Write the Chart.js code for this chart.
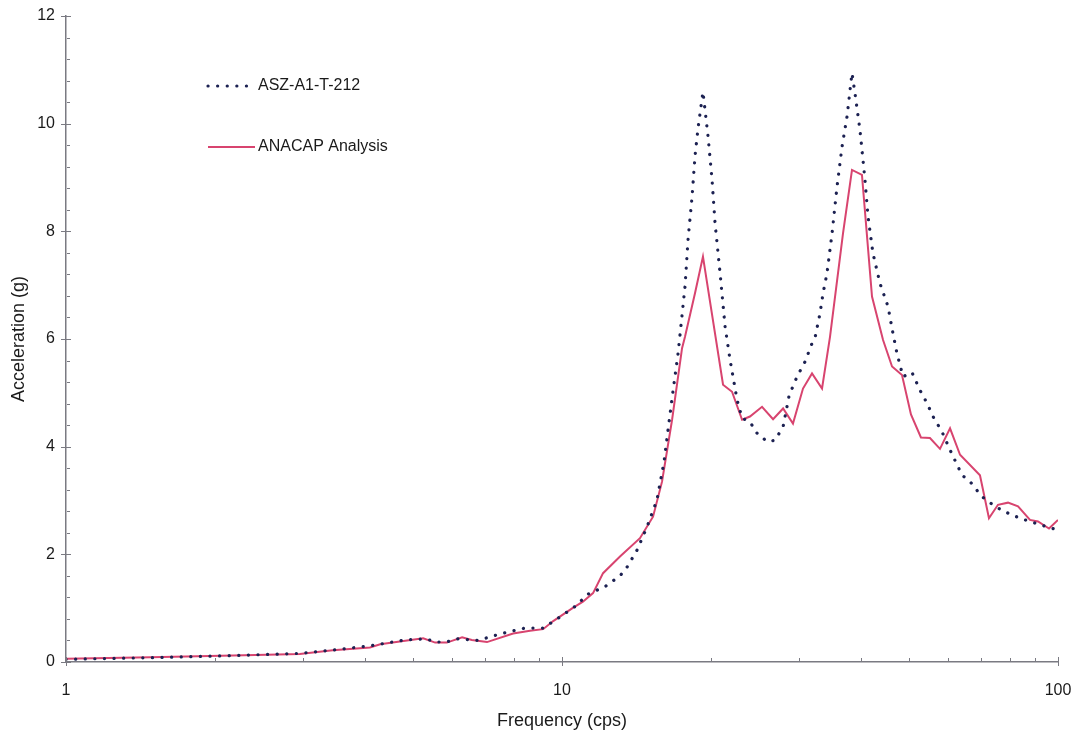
<!DOCTYPE html>
<html>
<head>
<meta charset="utf-8">
<script src="https://cdn.jsdelivr.net/npm/chart.js@4/dist/chart.umd.min.js"></script>
<style>
  body { margin: 0; background: #fff; }
  #wrap { width: 1076px; height: 734px; }
</style>
</head>
<body>
<div id="wrap"><canvas id="myChart" width="1076" height="734"></canvas></div>
<script>
// measured spectrum (ASZ-A1-T-212), frequency in cps, acceleration in g
var aszFreq = [1.0, 1.48, 2.17, 2.96, 3.45, 4.10, 4.83, 5.30, 5.60, 5.89, 6.17, 6.52, 6.77, 7.06, 7.50, 7.97, 8.42, 9.16, 9.81,
  10.62, 11.28, 12.21, 13.09, 13.52, 14.17, 14.84, 15.54, 16.06, 16.36, 16.75, 17.14, 17.70, 17.95, 18.29, 18.54, 18.80,
  19.24, 19.70, 20.07, 20.35, 20.83, 21.32, 21.82, 22.54, 23.07, 23.93, 24.85, 26.02, 26.88, 27.91, 28.7, 29.77, 30.91,
  31.92, 32.4, 33.13, 33.60, 34.22, 35.03, 35.85, 36.69, 37.55, 38.43, 38.97, 39.88, 40.82, 41.40, 42.36, 43.77, 45.43,
  46.49, 47.36, 48.70, 50.77, 52.69, 54.43, 55.98, 58.34, 60.58, 64.05, 66.48, 70.28, 74.65, 78.19, 83.83, 91.99, 100];
var aszAccel = [0.05, 0.08, 0.12, 0.16, 0.22, 0.30, 0.41, 0.43, 0.37, 0.38, 0.43, 0.41, 0.40, 0.45, 0.52, 0.58, 0.63, 0.63, 0.81,
  1.03, 1.26, 1.40, 1.60, 1.76, 2.08, 2.51, 3.01, 3.72, 4.31, 5.05, 5.73, 6.97, 7.84, 8.64, 9.39, 9.91,
  10.59, 9.76, 8.95, 8.15, 7.22, 6.23, 5.61, 4.87, 4.53, 4.46, 4.22, 4.09, 4.12, 4.37, 4.95, 5.30, 5.58,
  5.92, 6.04, 6.48, 6.85, 7.22, 7.96, 8.83, 9.57, 10.13, 10.94, 10.56, 9.88, 8.95, 8.27, 7.59, 7.03, 6.60,
  6.10, 5.73, 5.30, 5.38, 5.05, 4.81, 4.56, 4.28, 3.94, 3.47, 3.35, 3.07, 2.89, 2.79, 2.67, 2.55, 2.45];

// ANACAP analysis
var anaFreq = [1.0, 1.48, 2.17, 2.96, 3.45, 4.10, 4.30, 4.71, 5.25, 5.55, 5.86, 6.29, 6.58, 7.06, 7.97, 8.62, 9.16, 9.60,
  10.5, 11.02, 11.55, 12.1, 13.09, 14.36, 15.26, 15.91, 16.67, 17.46, 17.70, 18.54, 19.24, 21.12, 22.02, 23.07, 23.93,
  25.31, 26.64, 27.91, 29.22, 30.61, 31.92, 33.44, 34.70, 36.86, 38.43, 40.25, 42.17, 44.39, 46.28, 48.47, 50.53, 52.93,
  55.19, 57.82, 60.58, 63.46, 69.61, 72.58, 75.68, 79.29, 83.06, 87.81, 91.14, 95.92, 100];
var anaAccel = [0.06, 0.09, 0.12, 0.15, 0.22, 0.27, 0.33, 0.38, 0.44, 0.36, 0.36, 0.46, 0.41, 0.37, 0.53, 0.58, 0.61, 0.76,
  1.00, 1.12, 1.28, 1.65, 1.96, 2.30, 2.70, 3.35, 4.50, 5.83, 6.04, 6.85, 7.53, 5.15, 5.02, 4.50, 4.56,
  4.74, 4.51, 4.71, 4.43, 5.08, 5.36, 5.08, 6.04, 7.96, 9.14, 9.05, 6.79, 5.98, 5.49, 5.33, 4.60, 4.17,
  4.16, 3.96, 4.34, 3.85, 3.47, 2.67, 2.92, 2.96, 2.89, 2.64, 2.61, 2.48, 2.64];

var yLabels = [0, 2, 4, 6, 8, 10, 12];

function pts(xs, ys) {
  return xs.map(function(f, i) { return { x: f, y: ys[i] }; });
}

var inkColor = '#1a1a1a';
var axisColor = '#7a7a82';

// minor ticks on both axes, drawn through the scales
var minorTicks = {
  id: 'minorTicks',
  afterDraw: function(chart) {
    var ctx = chart.ctx, xs = chart.scales.x, ys = chart.scales.y;
    var left = chart.chartArea.left, bottom = chart.chartArea.bottom;
    ctx.save();
    ctx.strokeStyle = axisColor;
    ctx.lineWidth = 1;
    ctx.beginPath();
    for (var v = 0; v <= 12.001; v += 0.4) {
      var py = Math.round(ys.getPixelForValue(v)) + 0.5;
      var even = Math.abs(v / 2 - Math.round(v / 2)) < 1e-6;
      ctx.moveTo(even ? left - 5 : left + 1, py);
      ctx.lineTo(even ? left + 5 : left + 4, py);
    }
    [1, 10].forEach(function(d) {
      for (var k = 2; k <= 9; k++) {
        var px = Math.round(xs.getPixelForValue(k * d)) + 0.5;
        ctx.moveTo(px, bottom);
        ctx.lineTo(px, bottom - 4);
      }
    });
    [1, 10, 100].forEach(function(d) {
      var px = Math.round(xs.getPixelForValue(d)) + 0.5;
      ctx.moveTo(px, bottom + 4);
      ctx.lineTo(px, bottom - 5);
    });
    ctx.stroke();
    ctx.restore();
  }
};

// legend sitting inside the plot, top left
var innerLegend = {
  id: 'innerLegend',
  afterDraw: function(chart) {
    var ctx = chart.ctx;
    var rows = [86, 147];
    ctx.save();
    chart.data.datasets.forEach(function(ds, i) {
      var y = rows[i];
      ctx.strokeStyle = ds.borderColor;
      ctx.lineWidth = ds.borderWidth;
      ctx.lineCap = ds.borderCapStyle || 'butt';
      ctx.setLineDash(ds.borderDash || []);
      ctx.beginPath();
      ctx.moveTo(208, y);
      ctx.lineTo(i == 0 ? 250 : 255, y);
      ctx.stroke();
      ctx.setLineDash([]);
      ctx.fillStyle = inkColor;
      ctx.font = '16px "Liberation Sans", Arial, sans-serif';
      ctx.textBaseline = 'middle';
      ctx.fillText(ds.label, 258, y);
    });
    ctx.restore();
  }
};

var ctx = document.getElementById('myChart').getContext('2d');
var chart = new Chart(ctx, {
  type: 'line',
  data: {
    datasets: [{
      label: 'ASZ-A1-T-212',
      data: pts(aszFreq, aszAccel),
      borderColor: '#1c2152',
      borderWidth: 3.2,
      borderDash: [0.1, 9.5],
      borderCapStyle: 'round',
      pointRadius: 0,
      tension: 0,
      order: 0
    }, {
      label: 'ANACAP Analysis',
      data: pts(anaFreq, anaAccel),
      borderColor: '#d8446f',
      borderWidth: 2,
      pointRadius: 0,
      tension: 0,
      order: 1
    }]
  },
  options: {
    responsive: false,
    animation: false,
    layout: { padding: { top: 16, right: 18, left: 0, bottom: 0 } },
    plugins: { legend: { display: false }, tooltip: { enabled: false } },
    scales: {
      x: {
        type: 'logarithmic',
        min: 1,
        max: 100,
        afterFit: function(scale) {
          scale.height = 72;
          scale.paddingLeft = 0;
          scale.paddingRight = 0;
        },
        grid: { drawOnChartArea: false, drawTicks: false },
        border: { color: axisColor, width: 1.5 },
        ticks: {
          autoSkip: false,
          maxRotation: 0,
          padding: 19,
          color: inkColor,
          font: { family: '"Liberation Sans", Arial, sans-serif', size: 16 },
          callback: function(v) {
            return [1, 10, 100].indexOf(v) >= 0 ? String(v) : '';
          }
        },
        title: {
          display: true,
          text: 'Frequency (cps)',
          color: inkColor,
          font: { family: '"Liberation Sans", Arial, sans-serif', size: 18 },
          padding: { top: 0, bottom: 2 }
        }
      },
      y: {
        min: 0,
        max: 12,
        afterFit: function(scale) {
          scale.width = 66;
          scale.paddingTop = 0;
          scale.paddingBottom = 0;
        },
        afterBuildTicks: function(scale) {
          scale.ticks = yLabels.map(function(v) { return { value: v }; });
        },
        grid: { drawOnChartArea: false, drawTicks: false },
        border: { color: axisColor, width: 1.5 },
        ticks: {
          padding: 11,
          color: inkColor,
          font: { family: '"Liberation Sans", Arial, sans-serif', size: 16 }
        },
        title: {
          display: true,
          text: 'Acceleration (g)',
          color: inkColor,
          font: { family: '"Liberation Sans", Arial, sans-serif', size: 18 },
          padding: { top: 8, bottom: 0 }
        }
      }
    }
  },
  plugins: [minorTicks, innerLegend]
});
</script>
</body>
</html>
